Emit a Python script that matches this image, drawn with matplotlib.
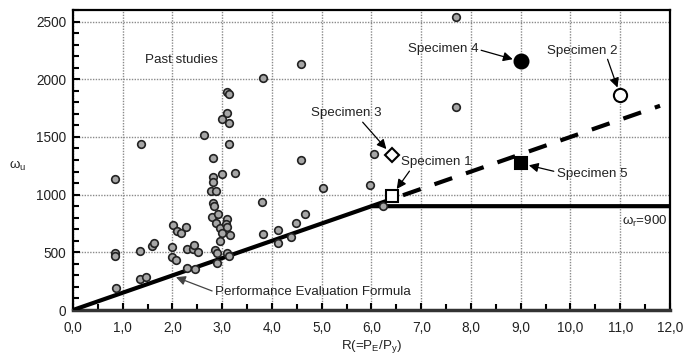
import matplotlib
matplotlib.use("Agg")
import matplotlib.pyplot as plt
from matplotlib import font_manager
from matplotlib.ticker import MultipleLocator, FuncFormatter

names = {f.name for f in font_manager.fontManager.ttflist}
fam = 'Liberation Sans Narrow' if 'Liberation Sans Narrow' in names else 'Liberation Sans'
plt.rcParams['font.family'] = [fam, 'DejaVu Sans']
plt.rcParams['mathtext.fontset'] = 'custom'
plt.rcParams['mathtext.rm'] = fam
plt.rcParams['mathtext.it'] = fam

# Past studies data (R, omega_u)
past_R = [0.84, 0.84, 0.84, 0.87, 1.35, 1.35, 1.47, 1.59, 1.63, 1.37,
          1.99, 1.99, 2.08, 2.02, 2.09, 2.17, 2.27, 2.29, 2.45, 2.30,
          2.41, 2.44, 2.51, 2.63, 3.09, 3.13, 3.09, 2.99, 3.14, 3.14,
          2.81, 2.82, 2.81, 2.99, 3.26, 2.78, 2.87, 2.81, 2.83, 2.80,
          2.92, 2.87, 2.95, 3.09, 3.08, 3.09, 2.99, 3.16, 2.95, 2.85,
          2.89, 2.89, 3.09, 3.14, 3.80, 3.82, 4.58, 4.58, 5.03, 6.05,
          5.97, 3.82, 7.70, 7.70, 4.12, 4.12, 4.38, 4.48, 4.66, 6.23]
past_w = [1133, 493, 467, 190, 510, 268, 285, 553, 580, 1436,
          545, 459, 432, 735, 683, 666, 718, 363, 355, 528,
          528, 562, 502, 1518, 1886, 1868, 1704, 1652, 1617, 1436,
          1320, 1150, 1110, 1176, 1185, 1030, 1035, 925, 905, 805,
          830, 752, 709, 787, 744, 718, 666, 649, 597, 519,
          493, 407, 493, 467, 934, 657, 2128, 1298, 1060, 1349,
          1081, 2007, 2543, 1756, 692, 580, 631, 753, 830, 900]

# Specimens
spec_names = ['Specimen 1', 'Specimen 2', 'Specimen 3', 'Specimen 4', 'Specimen 5']
spec_R = [6.41, 11.0, 6.41, 9.0, 9.0]
spec_w = [990, 1860, 1341, 2154, 1271]

# Performance evaluation formula
formula_R = [0.0, 6.0, 12.0]
formula_w = [0, 900, 900]
dashed_R = [6.0, 11.8]
dashed_w = [900, 1770]

xticks = [0, 1, 2, 3, 4, 5, 6, 7, 8, 9, 10, 11, 12]
yticks = [0, 500, 1000, 1500, 2000, 2500]

fig = plt.figure(figsize=(6.95, 3.58), dpi=100)
ax = fig.add_axes([0.105, 0.134, 0.859, 0.838])

ax.set_xlim(0, 12)
ax.set_ylim(0, 2600)
ax.set_xticks(xticks)
ax.set_yticks(yticks)
ax.xaxis.set_minor_locator(MultipleLocator(0.5))
ax.yaxis.set_minor_locator(MultipleLocator(100))
ax.xaxis.set_major_formatter(FuncFormatter(lambda v, p: f"{v:.1f}".replace('.', ',')))
ax.tick_params(which='both', direction='in', width=1.5, labelsize=9.8, colors='black', labelcolor='#222')
ax.tick_params(which='major', length=5, pad=8)
ax.tick_params(which='minor', length=4)
ax.tick_params(axis='y', pad=5)
ax.grid(True, which='major', linestyle=(0, (1, 1)), color='#8a8a8a', lw=1)
ax.set_axisbelow(True)
for s in ax.spines.values():
    s.set_linewidth(1.6)
ax.spines['bottom'].set_color('#333')
ax.spines['bottom'].set_linewidth(2.5)

ax.plot(formula_R, formula_w, color='black', lw=3, solid_capstyle='butt', zorder=3)
ax.plot(dashed_R, dashed_w, color='black', lw=3, dashes=(4.5, 3.5), dash_capstyle='butt', zorder=3)

ax.scatter(past_R, past_w, s=30, facecolor='#a6a6a6', edgecolor='#222', linewidth=1.2, zorder=4)

ms = dict(zorder=6, markeredgecolor='black', markeredgewidth=1.5, linestyle='none')
ax.plot(spec_R[0], spec_w[0], marker='s', markersize=8.5, markerfacecolor='white', **ms)
ax.plot(spec_R[1], spec_w[1], marker='o', markersize=9.5, markerfacecolor='white', **ms)
ax.plot(spec_R[2], spec_w[2], marker='D', markersize=7.5, markerfacecolor='white', **ms)
ax.plot(spec_R[3], spec_w[3], marker='o', markersize=10, markerfacecolor='black', **ms)
ax.plot(spec_R[4], spec_w[4], marker='s', markersize=8.5, markerfacecolor='black', **ms)

ap = dict(arrowstyle='-|>', color='black', lw=0.9, mutation_scale=14, shrinkA=0, shrinkB=4)
fs = 9.6
ax.text(2.18, 2171, 'Past studies', fontsize=fs, ha='center', va='center', color='#222')
ax.annotate(spec_names[3], xy=(spec_R[3], spec_w[3]), xytext=(7.44, 2258), fontsize=fs,
            ha='center', va='center', color='#222',
            arrowprops=dict(ap, shrinkB=6, relpos=(1.0, 0.5)))
ax.annotate(spec_names[1], xy=(spec_R[1], spec_w[1]), xytext=(10.23, 2249), fontsize=fs,
            ha='center', va='center', color='#222',
            arrowprops=dict(ap, shrinkB=6, relpos=(0.85, 0.0)))
ax.annotate(spec_names[2], xy=(spec_R[2], spec_w[2]), xytext=(5.49, 1704), fontsize=fs,
            ha='center', va='center', color='#222',
            arrowprops=dict(ap, shrinkB=6, relpos=(0.7, 0.0)))
ax.annotate(spec_names[0], xy=(spec_R[0], spec_w[0]), xytext=(7.30, 1280), fontsize=fs,
            ha='center', va='center', color='#222',
            arrowprops=dict(ap, shrinkB=6, relpos=(0.15, 0.0)))
ax.annotate(spec_names[4], xy=(spec_R[4], spec_w[4]), xytext=(10.43, 1176), fontsize=fs,
            ha='center', va='center', color='#222',
            arrowprops=dict(ap, shrinkB=6, relpos=(0.0, 0.7)))
ax.annotate('Performance Evaluation Formula', xy=(2.07, 285), xytext=(4.82, 156), fontsize=fs,
            ha='center', va='center', color='#222',
            arrowprops=dict(ap, shrinkB=0, relpos=(0.0, 0.5), color='#444'))
ax.text(11.94, 770, r'$\omega_\mathrm{r}$=900', fontsize=fs, ha='right', va='center', color='#222')

ax.set_xlabel(r'R(=P$_\mathrm{E}$/P$_\mathrm{y}$)', fontsize=fs, color='#222', labelpad=2)
fig.text(18 / 695, 1 - 166 / 358, r'$\omega_\mathrm{u}$', fontsize=fs, color='#222',
         ha='center', va='center')

fig.savefig('out.png', dpi=100)
